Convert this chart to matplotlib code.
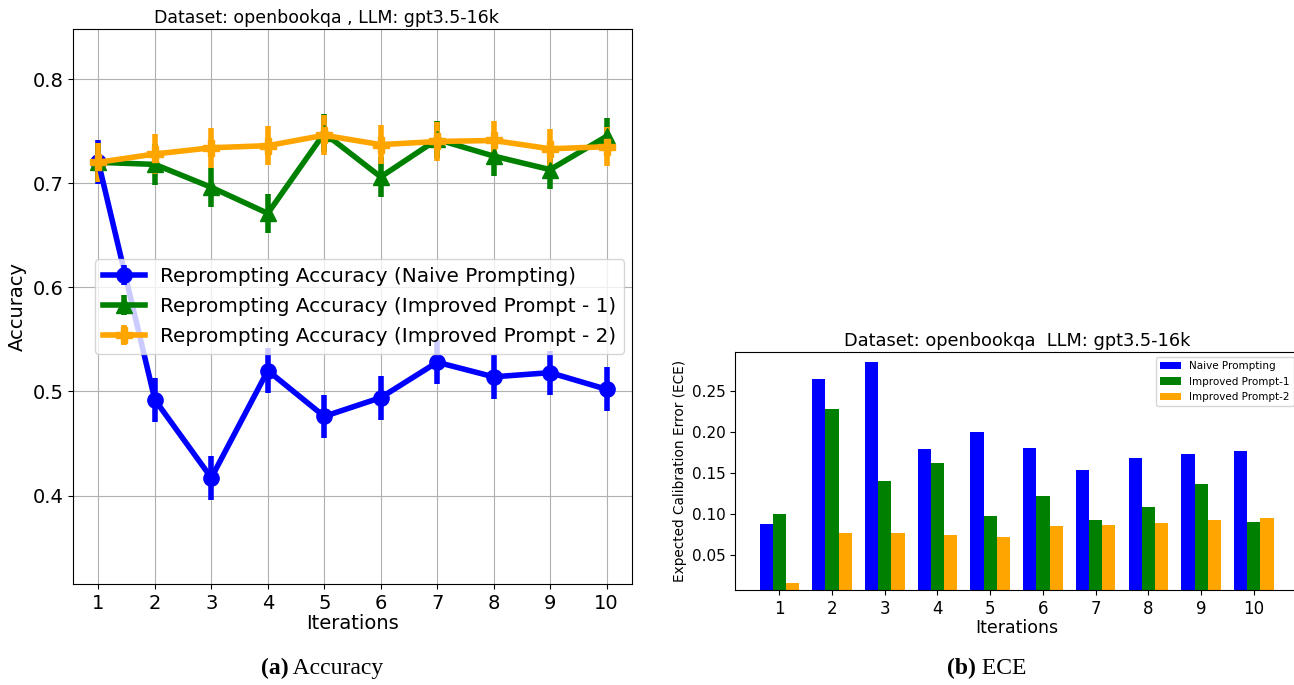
import matplotlib
matplotlib.use("Agg")
import matplotlib.pyplot as plt
import numpy as np

iterations = [1, 2, 3, 4, 5, 6, 7, 8, 9, 10]

acc_naive = [0.720, 0.492, 0.417, 0.520, 0.476, 0.494, 0.528, 0.514, 0.518, 0.502]
acc_imp1 = [0.720, 0.718, 0.696, 0.671, 0.748, 0.706, 0.742, 0.726, 0.713, 0.745]
acc_imp2 = [0.720, 0.728, 0.734, 0.736, 0.746, 0.737, 0.740, 0.741, 0.733, 0.735]
err_naive = [0.021, 0.021, 0.021, 0.022, 0.021, 0.021, 0.021, 0.021, 0.021, 0.021]
err_imp1 = [0.019, 0.020, 0.019, 0.019, 0.018, 0.019, 0.018, 0.019, 0.019, 0.018]
err_imp2 = [0.019, 0.019, 0.019, 0.019, 0.019, 0.019, 0.019, 0.019, 0.019, 0.019]

ece_naive = [0.088, 0.265, 0.286, 0.179, 0.200, 0.181, 0.154, 0.168, 0.173, 0.177]
ece_imp1 = [0.100, 0.228, 0.140, 0.162, 0.098, 0.122, 0.092, 0.108, 0.137, 0.090]
ece_imp2 = [0.016, 0.077, 0.077, 0.074, 0.072, 0.085, 0.087, 0.089, 0.092, 0.095]

acc_labels = ["Reprompting Accuracy (Naive Prompting)",
              "Reprompting Accuracy (Improved Prompt - 1)",
              "Reprompting Accuracy (Improved Prompt - 2)"]
ece_labels = ["Naive Prompting", "Improved Prompt-1", "Improved Prompt-2"]
colors = ["blue", "green", "orange"]

fig = plt.figure(figsize=(12.94, 6.85), dpi=100)

# ---- Left: accuracy ----
ax1 = fig.add_axes([0.0564, 0.1474, 0.432, 0.8102])
markers = ["o", "^", "P"]
for vals, errs, lab, c, m in zip([acc_naive, acc_imp1, acc_imp2],
                                 [err_naive, err_imp1, err_imp2],
                                 acc_labels, colors, markers):
    ax1.errorbar(iterations, vals, yerr=errs, color=c, marker=m, markersize=11,
                 linewidth=4, elinewidth=4, capsize=0, label=lab)
ax1.set_xlim(0.55, 10.45)
ax1.set_ylim(0.315, 0.848)
ax1.set_xticks(iterations)
ax1.set_yticks([0.4, 0.5, 0.6, 0.7, 0.8])
ax1.tick_params(labelsize=14)
ax1.grid(True, color="#b0b0b0", linewidth=0.8)
ax1.set_axisbelow(True)
ax1.set_xlabel("Iterations", fontsize=14, labelpad=1)
ax1.set_ylabel("Accuracy", fontsize=14)
ax1.set_title("Dataset: openbookqa , LLM: gpt3.5-16k", fontsize=12.5, pad=4, x=0.4526)
ax1.legend(loc="center left", bbox_to_anchor=(0.022, 0.5), fontsize=14.4,
           handlelength=2.1, handletextpad=0.72, labelspacing=0.55)

# ---- Right: ECE ----
ax2 = fig.add_axes([0.568, 0.1387, 0.436, 0.3474])
x = np.arange(1, 11)
w = 0.25
for k, (vals, lab, c) in enumerate(zip([ece_naive, ece_imp1, ece_imp2], ece_labels, colors)):
    ax2.bar(x + (k - 1) * w, vals, width=w, color=c, label=lab)
ax2.set_xlim(0.16, 10.86)
ax2.set_ylim(0.007, 0.298)
ax2.set_xticks(x)
ax2.set_yticks([0.05, 0.10, 0.15, 0.20, 0.25])
ax2.tick_params(axis="y", labelsize=11)
ax2.tick_params(axis="x", labelsize=12)
ax2.set_xlabel("Iterations", fontsize=12.5, labelpad=1)
ax2.set_ylabel("Expected Calibration Error (ECE)", fontsize=9.8, labelpad=3)
ax2.set_title("Dataset: openbookqa  LLM: gpt3.5-16k", fontsize=12.8, pad=4)
ax2.legend(loc="upper right", fontsize=7.5)

# ---- captions ----
serif = "Liberation Serif"
fig.text(0.2227, 0.016, "(a)", fontsize=17, fontweight="bold", family=serif, ha="right", va="baseline")
fig.text(0.2227, 0.016, " Accuracy", fontsize=17, family=serif, ha="left", va="baseline")
fig.text(0.7545, 0.016, "(b)", fontsize=17, fontweight="bold", family=serif, ha="right", va="baseline")
fig.text(0.7545, 0.016, " ECE", fontsize=17, family=serif, ha="left", va="baseline")

fig.savefig("out.png", dpi=100)
